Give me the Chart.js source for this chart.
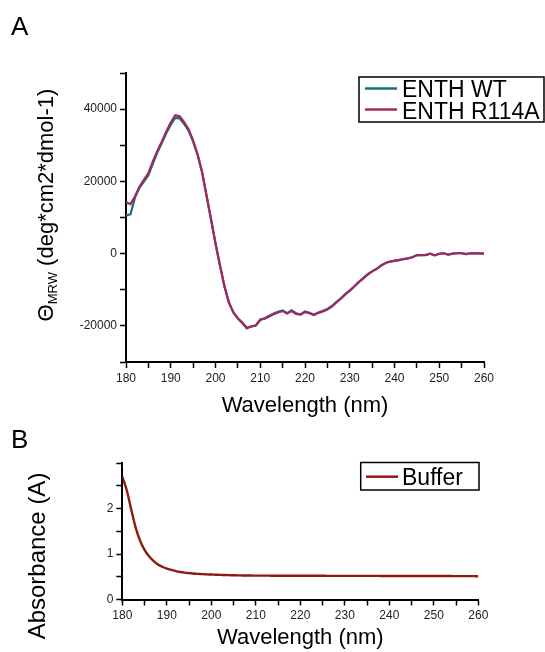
<!DOCTYPE html>
<html>
<head>
<meta charset="utf-8">
<script src="https://cdn.jsdelivr.net/npm/chart.js@4.4.1/dist/chart.umd.min.js"></script>
<style>
  html, body { margin: 0; padding: 0; background: #fff; }
  body { width: 545px; height: 652px; position: relative; overflow: hidden;
         font-family: "Liberation Sans", Arial, sans-serif; }
  canvas { position: absolute; left: 0; }
  #cdA { top: 0; }
  #cdB { top: 420px; }
  .panel { position: absolute; font-size: 26px; line-height: 26px; color: #000; }
</style>
</head>
<body>
<canvas id="cdA" width="545" height="420"></canvas>
<canvas id="cdB" width="545" height="232"></canvas>
<div class="panel" style="left:11px; top:13px;">A</div>
<div class="panel" style="left:11px; top:426px;">B</div>
<script>
// Wavelength grid (nm)
const wavelengths = [
  180,181,182,183,184,185,186,187,188,189,190,191,192,193,194,195,196,197,198,199,
  200,201,202,203,204,205,206,207,208,209,210,211,212,213,214,215,216,217,218,219,
  220,221,222,223,224,225,226,227,228,229,230,231,232,233,234,235,236,237,238,239,
  240,241,242,243,244,245,246,247,248,249,250,251,252,253,254,255,256,257,258,259,
  260
];

// Mean residue ellipticity, ENTH wild type
const enthWT = [
  10600,10900,15500,18200,19900,21700,24900,28000,30600,33300,35700,37600,37400,35900,34000,31000,27300,22500,16000,9500,
  2800,-3200,-9000,-13500,-16300,-18000,-19300,-20700,-20200,-19900,-18300,-17900,-17200,-16600,-16100,-15700,-16500,-15700,-16500,-16800,
  -16000,-16400,-16900,-16300,-15800,-15300,-14500,-13400,-12400,-11200,-10200,-9100,-7900,-6800,-5700,-4900,-4200,-3300,-2600,-2200,
  -1950,-1800,-1500,-1300,-1000,-400,-400,-350,0,-500,-50,100,-300,0,100,150,-150,100,50,100,
  0
];

// Mean residue ellipticity, ENTH R114A
const enthR114A = [
  14200,13700,15800,18500,20400,22300,25500,28400,31000,33800,36300,38300,38000,36400,34400,31300,27500,22600,16100,9500,
  2800,-3300,-9100,-13600,-16300,-17900,-19100,-20500,-20100,-19900,-18300,-18000,-17400,-16800,-16300,-15900,-16600,-15900,-16700,-16900,
  -16200,-16500,-17000,-16400,-16000,-15500,-14700,-13500,-12500,-11300,-10300,-9100,-7900,-6900,-5800,-4900,-4300,-3300,-2600,-2200,
  -2000,-1800,-1500,-1300,-1000,-450,-400,-400,0,-500,-50,100,-250,0,150,100,-150,100,50,50,
  0
];

// Buffer absorbance (A)
const bufferAbs = [
  2.70,2.40,1.98,1.58,1.29,1.09,0.95,0.85,0.77,0.72,0.68,0.65,0.625,0.605,0.59,0.58,0.57,0.563,0.557,0.552,
  0.548,0.544,0.541,0.538,0.535,0.533,0.531,0.529,0.527,0.526,0.525,0.525,0.524,0.524,0.523,0.523,0.523,0.522,0.522,0.522,
  0.522,0.521,0.521,0.521,0.521,0.521,0.520,0.520,0.520,0.520,0.520,0.520,0.519,0.519,0.519,0.519,0.519,0.519,0.518,0.518,
  0.518,0.518,0.518,0.517,0.517,0.517,0.517,0.516,0.516,0.516,0.516,0.515,0.515,0.515,0.515,0.514,0.514,0.514,0.513,0.513,
  0.512
];

const seriesNames = ['ENTH WT', 'ENTH R114A'];
const bufferName = 'Buffer';
const xTitle = 'Wavelength (nm)';
const yTitleB = 'Absorbance (A)';

const FONT = '"Liberation Sans", Arial, sans-serif';
const COL_WT = '#17707f';
const COL_MUT = '#a3285f';
const COL_BUF = '#8c1b10';

const points = (ys) => wavelengths.map((w, i) => ({ x: w, y: ys[i] }));

// Framed legend drawn inside the canvas
const boxLegend = {
  id: 'boxLegend',
  afterDraw(chart, args, o) {
    const ctx = chart.ctx;
    ctx.save();
    ctx.fillStyle = '#fff';
    ctx.fillRect(o.box[0], o.box[1], o.box[2] - o.box[0], o.box[3] - o.box[1]);
    ctx.strokeStyle = '#000';
    ctx.lineWidth = 1.5;
    ctx.strokeRect(o.box[0], o.box[1], o.box[2] - o.box[0], o.box[3] - o.box[1]);
    ctx.font = o.fontSize + 'px ' + FONT;
    ctx.textBaseline = 'alphabetic';
    ctx.textAlign = 'left';
    chart.data.datasets.forEach((ds, i) => {
      ctx.strokeStyle = ds.borderColor;
      ctx.lineWidth = 2.5;
      ctx.beginPath();
      ctx.moveTo(o.lineX[0], o.lineY[i]);
      ctx.lineTo(o.lineX[1], o.lineY[i]);
      ctx.stroke();
      ctx.fillStyle = '#000';
      ctx.fillText(ds.label, o.textX, o.baseY[i]);
    });
    ctx.restore();
  }
};

// Rotated axis title that allows a subscript part
const sideTitle = {
  id: 'sideTitle',
  afterDraw(chart, args, o) {
    const ctx = chart.ctx;
    ctx.save();
    ctx.translate(o.cx, o.cy);
    ctx.rotate(-Math.PI / 2);
    ctx.textBaseline = 'middle';
    ctx.textAlign = 'left';
    ctx.fillStyle = '#000';
    let total = 0;
    o.parts.forEach(p => {
      ctx.font = p.size + 'px ' + FONT;
      p.w = ctx.measureText(p.text).width;
      total += p.w;
    });
    let x = -total / 2;
    o.parts.forEach(p => {
      ctx.font = p.size + 'px ' + FONT;
      ctx.fillText(p.text, x, p.dy || 0);
      x += p.w;
    });
    ctx.restore();
  }
};

function axisStyle() {
  return {
    border: { display: true, color: '#000', width: 2 },
    grid: { display: true, drawOnChartArea: false, drawTicks: true,
            tickLength: 6, tickColor: '#000', tickWidth: 1.5 }
  };
}

function xAxis(height) {
  return Object.assign(axisStyle(), {
    type: 'linear', min: 180, max: 260,
    afterFit(s) { s.height = height; },
    ticks: { stepSize: 5, autoSkip: false, maxRotation: 0, color: '#222', padding: 3,
             font: { family: FONT, size: 12 },
             callback: v => (v % 10 === 0 ? String(v) : '') },
    title: { display: true, text: xTitle, color: '#000',
             font: { family: FONT, size: 22 }, padding: { top: 0, bottom: 1 } }
  });
}

Chart.register(boxLegend, sideTitle);

new Chart(document.getElementById('cdA'), {
  type: 'line',
  data: {
    datasets: [
      { label: seriesNames[0], data: points(enthWT), borderColor: COL_WT, order: 1,
        borderWidth: 2.2, pointRadius: 0, tension: 0, fill: false },
      { label: seriesNames[1], data: points(enthR114A), borderColor: COL_MUT, order: 0,
        borderWidth: 2.2, pointRadius: 0, tension: 0, fill: false }
    ]
  },
  options: {
    responsive: false, animation: false, devicePixelRatio: 1,
    layout: { padding: { left: 0, right: 61, top: 73, bottom: 0 } },
    plugins: {
      legend: { display: false }, tooltip: { enabled: false },
      boxLegend: { box: [359, 77, 544, 122], lineX: [365, 397], lineY: [88.5, 109.5],
                   textX: 402, baseY: [97, 118.5], fontSize: 23 },
      sideTitle: { cx: 47, cy: 205, parts: [
        { text: 'Θ', size: 22 },
        { text: 'MRW', size: 13, dy: 6 },
        { text: ' (deg*cm2*dmol-1)', size: 22 }
      ] }
    },
    scales: {
      x: xAxis(58),
      y: Object.assign(axisStyle(), {
        type: 'linear', min: -30000, max: 50000,
        afterFit(s) { s.width = 126; },
        ticks: { stepSize: 10000, autoSkip: false, color: '#222', padding: 3,
                 font: { family: FONT, size: 12 },
                 callback: v => (v % 20000 === 0 ? String(v) : '') }
      })
    }
  }
});

new Chart(document.getElementById('cdB'), {
  type: 'line',
  data: {
    datasets: [
      { label: bufferName, data: points(bufferAbs), borderColor: COL_BUF,
        borderWidth: 2.4, pointRadius: 0, tension: 0.3, fill: false }
    ]
  },
  options: {
    responsive: false, animation: false, devicePixelRatio: 1,
    layout: { padding: { left: 0, right: 66.7, top: 43, bottom: 0 } },
    plugins: {
      legend: { display: false }, tooltip: { enabled: false },
      boxLegend: { box: [360.7, 42.5, 479, 70], lineX: [366, 398], lineY: [56.7],
                   textX: 402, baseY: [64.5], fontSize: 23 },
      sideTitle: { cx: 38, cy: 136, parts: [ { text: yTitleB, size: 24 } ] }
    },
    scales: {
      x: xAxis(52.5),
      y: Object.assign(axisStyle(), {
        type: 'linear', min: 0, max: 3,
        afterFit(s) { s.width = 122.3; },
        ticks: { stepSize: 0.5, autoSkip: false, color: '#222', padding: 3,
                 font: { family: FONT, size: 12 },
                 callback: v => (Number.isInteger(v) && v < 3 ? String(v) : '') }
      })
    }
  }
});
</script>
</body>
</html>
